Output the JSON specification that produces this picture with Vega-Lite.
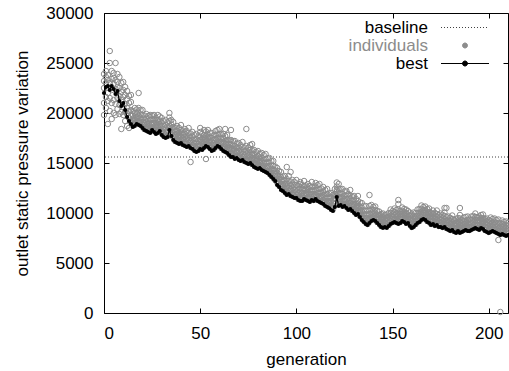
{
"$schema": "https://vega.github.io/schema/vega-lite/v6.json",
"width": 404, "height": 300,
"autosize": "none",
"padding": {"left": 104, "top": 13, "right": 1, "bottom": 58},
"background": "white",
"config": {
 "view": {"stroke": "black", "strokeWidth": 1},
 "font": "Liberation Sans",
 "axis": {"labelFont": "Liberation Sans", "titleFont": "Liberation Sans", "labelFontSize": 17, "titleFontSize": 17, "titleFontWeight": "normal", "labelColor": "#000", "titleColor": "#000", "domain": false, "grid": false, "ticks": true, "tickSize": 5, "tickColor": "#000", "tickWidth": 1}
},
"datasets": {
 "gen": [
{"g":0,"b":22000,"i":[19800,21000,22500,23200,23900]},
{"g":1,"b":22600,"i":[20500,21600,23000,23600,24200]},
{"g":2,"b":22700,"i":[18900,21200,22000,23300,23800]},
{"g":3,"b":22300,"i":[20200,21500,23000,25000,26200]},
{"g":4,"b":22700,"i":[19400,21000,22300,23400,24200]},
{"g":5,"b":22400,"i":[20000,21300,22900,23500,24000]},
{"g":6,"b":21900,"i":[19800,20900,22400,23300,25000]},
{"g":7,"b":22200,"i":[20400,21500,22600,23100,23900]},
{"g":8,"b":21200,"i":[19900,20800,21700,22500,23600]},
{"g":9,"b":20700,"i":[18400,20100,21300,22100,23000]},
{"g":10,"b":21000,"i":[19800,20600,21600,22300,23100]},
{"g":11,"b":20300,"i":[19200,20100,20900,21800,22600]},
{"g":12,"b":19600,"i":[18700,19900,20500,21400,22200]},
{"g":13,"b":19200,"i":[18500,19500,20200,21000,21700]},
{"g":14,"b":18900,"i":[19100,19700,20300,21100,21800]},
{"g":15,"b":18600,"i":[18750,19050,19400,19750,20200]},
{"g":16,"b":18700,"i":[19000,19300,19650,20000,20500]},
{"g":17,"b":18900,"i":[19000,19400,19600,19950,20350]},
{"g":18,"b":18800,"i":[19050,19200,19700,20050,20500,22000]},
{"g":19,"b":18700,"i":[18850,19150,19500,19850,20300]},
{"g":20,"b":18500,"i":[18800,19100,19450,19800,20300]},
{"g":21,"b":18300,"i":[18400,18800,19000,19350,19750]},
{"g":22,"b":18200,"i":[18450,18600,19100,19450,19900]},
{"g":23,"b":18100,"i":[18250,18550,18900,19250,19700]},
{"g":24,"b":18000,"i":[18300,18600,18950,19300,19800]},
{"g":25,"b":18300,"i":[18400,18800,19000,19350,19750]},
{"g":26,"b":18100,"i":[18350,18500,19000,19350,19800]},
{"g":27,"b":17900,"i":[18050,18350,18700,19050,19500]},
{"g":28,"b":18000,"i":[18300,18600,18950,19300,19800]},
{"g":29,"b":18200,"i":[18300,18700,18900,19250,19650]},
{"g":30,"b":17800,"i":[18050,18200,18700,19050,19500]},
{"g":31,"b":17600,"i":[17750,18050,18400,18750,19200]},
{"g":32,"b":17500,"i":[17800,18100,18450,18800,19300]},
{"g":33,"b":17600,"i":[17700,18100,18300,18650,19050]},
{"g":34,"b":18300,"i":[18550,18700,19200,19550,20000]},
{"g":35,"b":17700,"i":[17850,18150,18500,18850,19300]},
{"g":36,"b":17300,"i":[17600,17900,18250,18600,19100]},
{"g":37,"b":17100,"i":[17200,17600,17800,18150,18550]},
{"g":38,"b":17000,"i":[17250,17400,17900,18250,18700]},
{"g":39,"b":16900,"i":[17050,17350,17700,18050,18500]},
{"g":40,"b":17000,"i":[17300,17600,17950,18300,18800]},
{"g":41,"b":16800,"i":[16900,17300,17500,17850,18250]},
{"g":42,"b":16700,"i":[16950,17100,17600,17950,18400]},
{"g":43,"b":16600,"i":[16750,17050,17400,17750,18200]},
{"g":44,"b":16700,"i":[17000,17300,17650,18000,18500]},
{"g":45,"b":16500,"i":[15100,16600,17000,17200,17550,17950]},
{"g":46,"b":16400,"i":[16650,16800,17300,17650,18100]},
{"g":47,"b":16200,"i":[16350,16650,17000,17350,17800]},
{"g":48,"b":16100,"i":[16400,16700,17050,17400,17900]},
{"g":49,"b":16200,"i":[16300,16700,16900,17250,17650]},
{"g":50,"b":16400,"i":[16650,16800,17300,17650,18100,18500]},
{"g":51,"b":16300,"i":[16450,16750,17100,17450,17900]},
{"g":52,"b":16500,"i":[16800,17100,17450,17800,18300]},
{"g":53,"b":16700,"i":[15400,16800,17200,17400,17750,18150]},
{"g":54,"b":16600,"i":[16850,17000,17500,17850,18300]},
{"g":55,"b":16400,"i":[16550,16850,17200,17550,18000]},
{"g":56,"b":16200,"i":[16500,16800,17150,17500,18000]},
{"g":57,"b":16300,"i":[16400,16800,17000,17350,17750]},
{"g":58,"b":16500,"i":[16750,16900,17400,17750,18200]},
{"g":59,"b":16700,"i":[16850,17150,17500,17850,18300]},
{"g":60,"b":16600,"i":[16900,17200,17550,17900,18400]},
{"g":61,"b":16400,"i":[16500,16900,17100,17450,17850]},
{"g":62,"b":16200,"i":[16450,16600,17100,17450,17900]},
{"g":63,"b":16100,"i":[16250,16550,16900,17250,17700,18400]},
{"g":64,"b":16000,"i":[16300,16600,16950,17300,17800]},
{"g":65,"b":15800,"i":[15900,16300,16500,16850,17250]},
{"g":66,"b":15600,"i":[15850,16000,16500,16850,17300,18300]},
{"g":67,"b":15600,"i":[15750,16050,16400,16750,17200]},
{"g":68,"b":15400,"i":[15700,16000,16350,16700,17200]},
{"g":69,"b":15500,"i":[15600,16000,16200,16550,16950]},
{"g":70,"b":15300,"i":[15550,15700,16200,16550,17000]},
{"g":71,"b":15200,"i":[15350,15650,16000,16350,16800]},
{"g":72,"b":15300,"i":[15600,15900,16250,16600,17100]},
{"g":73,"b":15100,"i":[15200,15600,15800,16150,16550]},
{"g":74,"b":15000,"i":[15250,15400,15900,16250,16700,18400]},
{"g":75,"b":14900,"i":[15050,15350,15700,16050,16500]},
{"g":76,"b":15000,"i":[15300,15600,15950,16300,16800]},
{"g":77,"b":14800,"i":[14900,15300,15500,15850,16250,16900]},
{"g":78,"b":14600,"i":[14850,15000,15500,15850,16300]},
{"g":79,"b":14500,"i":[14650,14950,15300,15650,16100]},
{"g":80,"b":14400,"i":[14700,15000,15350,15700,16200]},
{"g":81,"b":14500,"i":[14600,15000,15200,15550,15950]},
{"g":82,"b":14300,"i":[14550,14700,15200,15550,16000]},
{"g":83,"b":14200,"i":[14350,14650,15000,15350,15800]},
{"g":84,"b":14100,"i":[14400,14700,15050,15400,15900]},
{"g":85,"b":14000,"i":[14100,14500,14700,15050,15450]},
{"g":86,"b":13800,"i":[14050,14200,14700,15050,15500]},
{"g":87,"b":13600,"i":[13750,14050,14400,14750,15200]},
{"g":88,"b":13400,"i":[13700,14000,14350,14700,15200]},
{"g":89,"b":13200,"i":[13300,13700,13900,14250,14650]},
{"g":90,"b":12800,"i":[13050,13200,13700,14050,14500]},
{"g":91,"b":12600,"i":[12750,13050,13400,13750,14200]},
{"g":92,"b":12300,"i":[12600,12900,13250,13600,14100]},
{"g":93,"b":12200,"i":[12300,12700,12900,13250,13650]},
{"g":94,"b":12000,"i":[12250,12400,12900,13250,13700]},
{"g":95,"b":11800,"i":[11950,12250,12600,12950,13400,14600]},
{"g":96,"b":11900,"i":[12200,12500,12850,13200,13700]},
{"g":97,"b":11700,"i":[11800,12200,12400,12750,13150,14100]},
{"g":98,"b":11600,"i":[11850,12000,12500,12850,13300]},
{"g":99,"b":11500,"i":[11650,11950,12300,12650,13100]},
{"g":100,"b":11500,"i":[11800,12100,12450,12800,13300]},
{"g":101,"b":11300,"i":[11400,11800,12000,12350,12750]},
{"g":102,"b":11200,"i":[11450,11600,12100,12450,12900,13100]},
{"g":103,"b":11200,"i":[11350,11650,12000,12350,12800]},
{"g":104,"b":11400,"i":[11700,12000,12350,12700,13200]},
{"g":105,"b":11300,"i":[11400,11800,12000,12350,12750]},
{"g":106,"b":11200,"i":[11450,11600,12100,12450,12900]},
{"g":107,"b":11100,"i":[11250,11550,11900,12250,12700]},
{"g":108,"b":11300,"i":[11600,11900,12250,12600,13100]},
{"g":109,"b":11200,"i":[11300,11700,11900,12250,12650]},
{"g":110,"b":11400,"i":[11650,11800,12300,12650,13000]},
{"g":111,"b":11200,"i":[11350,11650,12000,12350,12800]},
{"g":112,"b":11100,"i":[11400,11700,12050,12400,12900]},
{"g":113,"b":11000,"i":[11100,11500,11700,12050,12450]},
{"g":114,"b":10900,"i":[11150,11300,11800,12150,12600]},
{"g":115,"b":10700,"i":[10850,11150,11500,11850,12300]},
{"g":116,"b":10600,"i":[10900,11200,11550,11900,12400]},
{"g":117,"b":10500,"i":[10600,11000,11200,11550,11950]},
{"g":118,"b":10300,"i":[10550,10700,11200,11550,12000]},
{"g":119,"b":10200,"i":[10350,10650,11000,11350,11800]},
{"g":120,"b":10600,"i":[10900,11200,11550,11900,12400]},
{"g":121,"b":11600,"i":[11700,12100,12300,12650,13050]},
{"g":122,"b":10700,"i":[10950,11100,11600,11950,12400,12900]},
{"g":123,"b":10800,"i":[10950,11250,11600,11950,12400]},
{"g":124,"b":10600,"i":[10900,11200,11550,11900,12400]},
{"g":125,"b":10700,"i":[10800,11200,11400,11750,12150]},
{"g":126,"b":10500,"i":[10750,10900,11400,11750,12200]},
{"g":127,"b":10300,"i":[10450,10750,11100,11450,11900]},
{"g":128,"b":10400,"i":[10700,11000,11350,11700,12300]},
{"g":129,"b":10200,"i":[10300,10700,10900,11250,11650]},
{"g":130,"b":10000,"i":[10250,10400,10900,11250,11700]},
{"g":131,"b":9800,"i":[9950,10250,10600,10950,11400]},
{"g":132,"b":9900,"i":[10200,10500,10850,11200,11700]},
{"g":133,"b":9600,"i":[9700,10100,10300,10650,11050]},
{"g":134,"b":9300,"i":[9550,9700,10200,10550,11000]},
{"g":135,"b":9100,"i":[9250,9550,9900,10250,10700]},
{"g":136,"b":8900,"i":[9200,9500,9850,10200,10700]},
{"g":137,"b":8800,"i":[8900,9300,9500,9850,10250]},
{"g":138,"b":9000,"i":[9250,9400,9900,10250,10700,11800]},
{"g":139,"b":9200,"i":[9350,9650,10000,10350,10800]},
{"g":140,"b":9300,"i":[9400,9650,9950,10250,10600]},
{"g":141,"b":9200,"i":[9450,9700,10000,10300,10650]},
{"g":142,"b":9000,"i":[9100,9400,9600,9850,10200]},
{"g":143,"b":8800,"i":[9000,9150,9500,9800,10150]},
{"g":144,"b":8600,"i":[8700,8950,9250,9550,9900]},
{"g":145,"b":8500,"i":[8750,9000,9300,9600,9950]},
{"g":146,"b":8600,"i":[8700,9000,9200,9450,9800]},
{"g":147,"b":8500,"i":[8700,8850,9200,9500,9850]},
{"g":148,"b":8700,"i":[8800,9050,9350,9650,10000]},
{"g":149,"b":8900,"i":[9150,9400,9700,10000,10350]},
{"g":150,"b":9000,"i":[9100,9400,9600,9850,10200]},
{"g":151,"b":9100,"i":[9300,9450,9800,10100,10450]},
{"g":152,"b":9000,"i":[9100,9350,9650,9950,10300]},
{"g":153,"b":8900,"i":[9150,9400,9700,10000,10350,10900,11300]},
{"g":154,"b":9000,"i":[9100,9400,9600,9850,10200]},
{"g":155,"b":9200,"i":[9400,9550,9900,10200,10550]},
{"g":156,"b":9100,"i":[9200,9450,9750,10050,10400]},
{"g":157,"b":8900,"i":[9150,9400,9700,10000,10350]},
{"g":158,"b":9000,"i":[9100,9400,9600,9850,10200]},
{"g":159,"b":8700,"i":[8900,9050,9400,9700,10050]},
{"g":160,"b":8500,"i":[8600,8850,9150,9450,9800]},
{"g":161,"b":8600,"i":[8850,9100,9400,9700,10050]},
{"g":162,"b":8800,"i":[8900,9200,9400,9650,10000]},
{"g":163,"b":9000,"i":[9200,9350,9700,10000,10350]},
{"g":164,"b":9100,"i":[9200,9450,9750,10050,10400]},
{"g":165,"b":9300,"i":[9550,9800,10100,10400,10750]},
{"g":166,"b":9400,"i":[9500,9800,10000,10250,10600]},
{"g":167,"b":9300,"i":[9500,9650,10000,10300,10650]},
{"g":168,"b":9100,"i":[9200,9450,9750,10050,10400]},
{"g":169,"b":9000,"i":[9250,9500,9800,10100,10450]},
{"g":170,"b":8800,"i":[8900,9200,9400,9650,10000]},
{"g":171,"b":8900,"i":[9100,9250,9600,9900,10250]},
{"g":172,"b":8700,"i":[8800,9050,9350,9650,10000]},
{"g":173,"b":8800,"i":[9050,9300,9600,9900,10250]},
{"g":174,"b":8600,"i":[8700,9000,9200,9450,9800]},
{"g":175,"b":8600,"i":[8800,8950,9300,9600,9950]},
{"g":176,"b":8500,"i":[8600,8850,9150,9450,9800]},
{"g":177,"b":8600,"i":[8850,9100,9400,9700,10050,10500]},
{"g":178,"b":8400,"i":[8500,8800,9000,9250,9600,10500]},
{"g":179,"b":8300,"i":[8500,8650,9000,9300,9650]},
{"g":180,"b":8200,"i":[8300,8550,8850,9150,9500]},
{"g":181,"b":8300,"i":[8550,8800,9100,9400,9750]},
{"g":182,"b":8100,"i":[8200,8500,8700,8950,9300]},
{"g":183,"b":8000,"i":[8200,8350,8700,9000,9350]},
{"g":184,"b":8200,"i":[8300,8550,8850,9150,9500]},
{"g":185,"b":8000,"i":[8250,8500,8800,9100,9450,9800,10500]},
{"g":186,"b":8100,"i":[8200,8500,8700,8950,9300]},
{"g":187,"b":8200,"i":[8400,8550,8900,9200,9550]},
{"g":188,"b":8300,"i":[8400,8650,8950,9250,9600]},
{"g":189,"b":8200,"i":[8450,8700,9000,9300,9650]},
{"g":190,"b":8200,"i":[8300,8600,8800,9050,9400]},
{"g":191,"b":8300,"i":[8500,8650,9000,9300,9650]},
{"g":192,"b":8400,"i":[8500,8750,9050,9350,9700]},
{"g":193,"b":8500,"i":[8750,9000,9300,9600,9950]},
{"g":194,"b":8400,"i":[8500,8800,9000,9250,9600]},
{"g":195,"b":8300,"i":[8500,8650,9000,9300,9650]},
{"g":196,"b":8500,"i":[8600,8850,9150,9450,9800]},
{"g":197,"b":8400,"i":[8650,8900,9200,9500,9850]},
{"g":198,"b":8200,"i":[8300,8600,8800,9050,9400]},
{"g":199,"b":8100,"i":[8300,8450,8800,9100,9450]},
{"g":200,"b":8000,"i":[8100,8350,8650,8950,9300]},
{"g":201,"b":8100,"i":[8350,8600,8900,9200,9550]},
{"g":202,"b":8200,"i":[8300,8600,8800,9050,9400]},
{"g":203,"b":8100,"i":[8300,8450,8800,9100,9450]},
{"g":204,"b":8000,"i":[8100,8350,8650,8950,9300]},
{"g":205,"b":7900,"i":[7300,8150,8400,8700,9000,9350]},
{"g":206,"b":7800,"i":[100,7900,8200,8400,8650,9000]},
{"g":207,"b":7900,"i":[8100,8250,8600,8900,9250]},
{"g":208,"b":7800,"i":[7900,8150,8450,8750,9100]},
{"g":209,"b":7700,"i":[7950,8200,8500,8800,9150]},
{"g":210,"b":7800,"i":[7900,8200,8400,8650,9000]}
 ],
 "base": [{"name": "baseline", "v": 15600}]
},
"layer": [
 {
  "data": {"name": "base"},
  "mark": {"type": "rule", "strokeDash": [1, 2], "strokeWidth": 1},
  "encoding": {
   "y": {"field": "v", "type": "quantitative", "scale": {"domain": [0, 30000], "nice": false}, "axis": null},
   "color": {"field": "name", "type": "nominal",
    "scale": {"domain": ["baseline", "individuals", "best"], "range": ["#404040", "#8c8c8c", "#000000"]},
    "legend": {
     "orient": "none", "legendX": 300, "legendY": 6, "title": null, "padding": 0,
     "symbolSize": 100, "symbolStrokeWidth": 1, "rowPadding": 0,
     "labelFont": "Liberation Sans", "labelFontSize": 17,
     "encode": {
      "symbols": {"update": {
       "x": {"value": 61},
       "shape": {"signal": "datum.label === 'individuals' ? 'M0.5,0A0.5,0.5 0 1,1 -0.5,0A0.5,0.5 0 1,1 0.5,0Z' : datum.label === 'best' ? 'M-4.8,0H4.8M0.5,0A0.5,0.5 0 1,1 -0.5,0A0.5,0.5 0 1,1 0.5,0Z' : 'M-4.8,0H4.8'"},
       "fill": {"signal": "datum.label === 'best' ? '#000000' : 'transparent'"},
       "stroke": {"signal": "datum.label === 'individuals' ? '#8c8c8c' : (datum.label === 'baseline' ? '#404040' : '#000000')"},
       "strokeDash": {"signal": "datum.label === 'baseline' ? [1, 2] : []"},
       "opacity": {"value": 1}
      }},
      "labels": {"update": {
       "x": {"value": 24},
       "align": {"value": "right"},
       "fill": {"signal": "datum.label === 'individuals' ? '#8c8c8c' : '#000000'"}
      }}
     }
    }
   }
  }
 },
 {
  "data": {"name": "gen"},
  "transform": [{"flatten": ["i"]}],
  "mark": {"type": "point", "filled": false, "size": 30, "strokeWidth": 1, "opacity": 1},
  "encoding": {
   "x": {"field": "g", "type": "quantitative", "scale": {"domain": [0, 210], "nice": false},
    "axis": {"orient": "bottom", "offset": -5, "values": [0, 50, 100, 150, 200], "title": "generation", "labelPadding": 12, "titlePadding": 10}},
   "y": {"field": "i", "type": "quantitative", "scale": {"domain": [0, 30000], "nice": false},
    "axis": {"orient": "left", "offset": -5, "values": [0, 5000, 10000, 15000, 20000, 25000, 30000], "format": "d", "title": "outlet static pressure variation", "labelPadding": 11, "titlePadding": 14}},
   "color": {"datum": "individuals", "type": "nominal"}
  }
 },
 {
  "data": {"name": "gen"},
  "mark": {"type": "line", "strokeWidth": 1.2},
  "encoding": {
   "x": {"field": "g", "type": "quantitative",
    "axis": {"orient": "top", "offset": -5, "values": [0, 50, 100, 150, 200], "labels": false, "title": null}},
   "y": {"field": "b", "type": "quantitative",
    "axis": {"orient": "right", "offset": -5, "values": [0, 5000, 10000, 15000, 20000, 25000, 30000], "labels": false, "title": null}},
   "color": {"datum": "best", "type": "nominal"}
  }
 },
 {
  "data": {"name": "gen"},
  "mark": {"type": "point", "filled": true, "size": 18, "opacity": 1},
  "encoding": {
   "x": {"field": "g", "type": "quantitative", "axis": null},
   "y": {"field": "b", "type": "quantitative", "axis": null},
   "color": {"datum": "best", "type": "nominal"}
  }
 }
],
"resolve": {"axis": {"x": "independent", "y": "independent"}}
}
